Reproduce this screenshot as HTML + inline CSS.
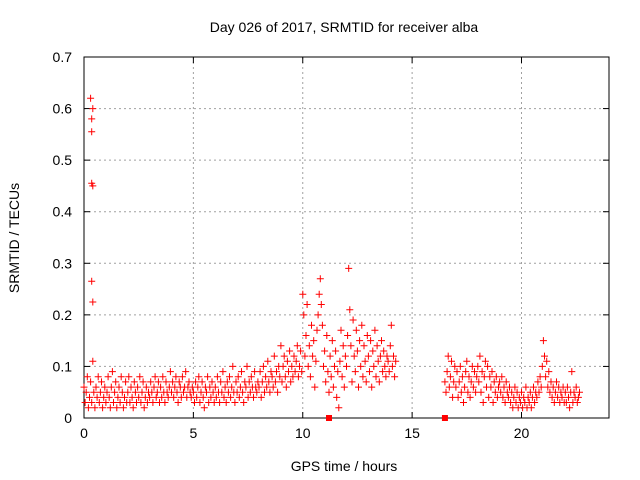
<!DOCTYPE html>
<html><head><meta charset="utf-8"><style>
body{margin:0;background:#fff}
svg{display:block;font-family:"Liberation Sans",sans-serif}
</style></head><body>
<svg id="chart" width="640" height="480" viewBox="0 0 640 480" xmlns="http://www.w3.org/2000/svg">
<rect width="640" height="480" fill="#fff"/>
<text x="344" y="32" font-size="14" text-anchor="middle" fill="#000">Day 026 of 2017, SRMTID for receiver alba</text>
<g id="grid"></g><g id="axes"></g><g id="marks"></g>
<text transform="translate(19,238) rotate(-90)" font-size="14" text-anchor="middle">SRMTID / TECUs</text>
<text x="344" y="471" font-size="14" text-anchor="middle">GPS time / hours</text>
</svg>
<script>
const xTicks=[0,5,10,15,20];
const yTicks=[0,0.1,0.2,0.3,0.4,0.5,0.6,0.7];
const yTickLabels=["0","0.1","0.2","0.3","0.4","0.5","0.6","0.7"];
const seg1Start=0, seg2Start=16.5, step=0.05;
const seg1Values=[0.06,0.03,0.05,0.08,0.02,0.04,0.07,0.03,0.11,0.05,0.02,0.06,0.04,0.08,0.03,0.05,0.07,0.02,0.04,0.06,
0.03,0.05,0.08,0.04,0.02,0.06,0.09,0.03,0.05,0.07,0.02,0.04,0.06,0.03,0.08,0.05,0.02,0.04,0.07,0.03,
0.05,0.08,0.03,0.06,0.04,0.02,0.07,0.05,0.03,0.06,0.04,0.08,0.03,0.05,0.07,0.02,0.04,0.06,0.03,0.05,
0.04,0.07,0.05,0.03,0.06,0.08,0.04,0.05,0.07,0.03,0.06,0.04,0.08,0.05,0.03,0.07,0.05,0.04,0.06,0.09,
0.05,0.07,0.04,0.06,0.08,0.05,0.03,0.07,0.06,0.04,0.08,0.05,0.06,0.09,0.04,0.06,0.07,0.05,0.04,0.06,
0.05,0.03,0.07,0.04,0.06,0.08,0.03,0.05,0.07,0.04,0.02,0.06,0.05,0.08,0.03,0.06,0.04,0.07,0.05,0.03,
0.06,0.04,0.08,0.05,0.03,0.07,0.05,0.09,0.04,0.06,0.03,0.07,0.05,0.08,0.04,0.06,0.1,0.05,0.03,0.07,
0.05,0.08,0.04,0.06,0.09,0.05,0.03,0.07,0.06,0.1,0.04,0.07,0.05,0.08,0.06,0.04,0.09,0.06,0.05,0.07,
0.06,0.09,0.04,0.07,0.1,0.05,0.08,0.06,0.11,0.07,0.05,0.09,0.08,0.06,0.12,0.07,0.09,0.05,0.1,0.08,
0.14,0.07,0.1,0.12,0.08,0.06,0.11,0.09,0.13,0.07,0.1,0.08,0.12,0.09,0.11,0.14,0.08,0.1,0.13,0.09,
0.24,0.2,0.12,0.16,0.22,0.1,0.14,0.08,0.18,0.12,0.15,0.06,0.11,0.17,0.2,0.24,0.27,0.22,0.18,0.1,
0.13,0.07,0.16,0.09,0.05,0.12,0.08,0.15,0.06,0.1,0.13,0.04,0.09,0.02,0.11,0.17,0.08,0.14,0.06,0.12,
0.1,0.16,0.29,0.21,0.14,0.07,0.19,0.12,0.09,0.17,0.13,0.06,0.15,0.1,0.18,0.08,0.14,0.11,0.07,0.16,
0.12,0.09,0.15,0.06,0.13,0.1,0.17,0.08,0.14,0.11,0.07,0.12,0.15,0.09,0.13,0.1,0.08,0.12,0.11,0.09,
0.14,0.18,0.1,0.12,0.08,0.11];
const seg2Values=[0.07,0.05,0.09,0.12,0.06,0.08,0.11,0.04,0.07,0.1,
0.06,0.09,0.04,0.07,0.1,0.05,0.08,0.03,0.06,0.09,0.11,0.05,0.08,0.04,0.07,0.1,0.06,0.09,0.05,0.08,
0.1,0.07,0.12,0.05,0.09,0.03,0.08,0.11,0.06,0.1,0.04,0.08,0.06,0.09,0.03,0.07,0.05,0.08,0.04,0.06,
0.07,0.05,0.08,0.04,0.06,0.03,0.07,0.05,0.04,0.06,0.03,0.05,0.02,0.04,0.06,0.03,0.05,0.02,0.04,0.03,
0.05,0.02,0.04,0.03,0.06,0.02,0.04,0.03,0.05,0.02,0.04,0.06,0.03,0.05,0.04,0.07,0.05,0.08,0.06,0.1,
0.15,0.12,0.08,0.11,0.06,0.09,0.05,0.07,0.04,0.06,0.03,0.05,0.07,0.04,0.06,0.03,0.05,0.04,0.06,0.03,
0.05,0.03,0.06,0.04,0.02,0.05,0.09,0.03,0.05,0.04,0.06,0.03,0.04,0.05];
const outlierTimes=[0.3,0.4,0.35,0.35,0.35,0.4,0.35,0.4];
const outlierValues=[0.62,0.6,0.58,0.555,0.455,0.45,0.265,0.225];
const gapMarkerTimes=[11.2,16.5];

const L=84,R=609,T=57,B=418,XMAX=24,YMAX=0.7;
const sx=v=>L+v/XMAX*(R-L), sy=v=>B-v/YMAX*(B-T);
const NS="http://www.w3.org/2000/svg";
function mk(tag,attrs,parent){const e=document.createElementNS(NS,tag);for(const k in attrs)e.setAttribute(k,attrs[k]);parent.appendChild(e);return e;}
const grid=document.getElementById('grid'),axes=document.getElementById('axes'),marks=document.getElementById('marks');
xTicks.forEach(t=>{
 const x=sx(t);
 if(t>0){const g=mk('line',{x1:x,x2:x,y1:T,y2:B,stroke:'#a0a0a0','stroke-dasharray':'2,3'},grid);
 
 }
 mk('line',{x1:x,x2:x,y1:B,y2:B-6,stroke:'#000'},axes);
 mk('line',{x1:x,x2:x,y1:T,y2:T+6,stroke:'#000'},axes);
 const tx=mk('text',{x:x,y:B+20,'font-size':14,'text-anchor':'middle'},axes);tx.textContent=t;
 
 
});
yTicks.forEach((t,i)=>{
 const y=sy(t);
 if(i>0&&i<yTicks.length-1){const g=mk('line',{x1:L,x2:R,y1:y,y2:y,stroke:'#a0a0a0','stroke-dasharray':'2,3'},grid);
 
 }
 mk('line',{x1:L,x2:L+6,y1:y,y2:y,stroke:'#000'},axes);
 mk('line',{x1:R,x2:R-6,y1:y,y2:y,stroke:'#000'},axes);
 const tx=mk('text',{x:L-12,y:y+5,'font-size':14,'text-anchor':'end'},axes);tx.textContent=yTickLabels[i];
 
 
});
const frame=mk('rect',{x:L,y:T,width:R-L,height:B-T,fill:'none',stroke:'#000'},axes);


let d='';
function plus(t,v){const x=sx(t),y=sy(v);d+=`M${(x-3.5).toFixed(1)} ${y.toFixed(1)}h7M${x.toFixed(1)} ${(y-3.5).toFixed(1)}v7`;}
seg1Values.forEach((v,i)=>plus(seg1Start+i*step,v));
seg2Values.forEach((v,i)=>plus(seg2Start+i*step,v));
outlierTimes.forEach((t,i)=>plus(t,outlierValues[i]));
const p=mk('path',{d:d,stroke:'#f00','stroke-width':1,fill:'none'},marks);


gapMarkerTimes.forEach(t=>{
 const r=mk('rect',{x:sx(t)-3,y:B-3,width:6,height:6,fill:'#f00'},marks);
 
 
});
</script>
</body></html>
